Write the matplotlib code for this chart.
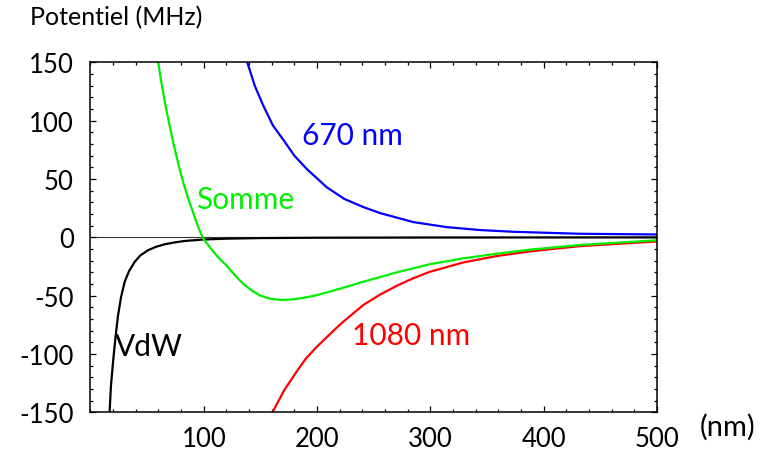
import numpy as np
from matplotlib import pyplot as plt
from matplotlib.ticker import MultipleLocator, FixedLocator

plt.rcParams['font.family'] = ['Lato', 'DejaVu Sans']
plt.rcParams['axes.unicode_minus'] = False

# distance (nm) / potentiel (MHz)
x_vdw = [16.9, 18, 19.9, 22, 24.3, 27, 30.2, 34, 39, 44, 50.8, 58, 65.5, 75, 83,
         100, 120, 150, 200, 300, 500]
y_vdw = [-149, -128, -107, -86, -67, -51, -38, -29, -21, -15.5, -11, -8, -5.9, -4.2, -3.1,
         -1.8, -1.1, -0.6, -0.3, -0.1, 0]

x_670 = [138.4, 145, 152.5, 161, 171.7, 180, 190.8, 208.5, 224, 240.8, 255.7, 285, 314.4,
         343.8, 373.2, 432, 500]
y_670 = [150, 130, 113, 96, 81.6, 70, 58.7, 43, 33, 26, 20.8, 13.1, 8.8,
         6.3, 4.8, 3.1, 2.5]

x_1080 = [161.3, 171, 182, 190, 199.6, 211.3, 220, 229, 240.8, 255.7, 270.3, 285, 299.6,
          329, 358.5, 388, 432, 500]
y_1080 = [-148.8, -131, -115, -104, -94, -83, -75, -67.5, -58, -49, -41.5, -35, -29.5,
          -21.5, -16, -12, -7.5, -3.5]

x_somme = [59.8, 62, 65.8, 70, 73.1, 78, 81.9, 86, 90.7, 95, 99.5, 105, 110, 115, 120,
           127, 135, 143, 150, 158, 168.7, 180, 190, 200, 211.3, 229, 240.8, 255.7, 270.3,
           299.6, 329, 358.5, 388, 432, 500]
y_somme = [150, 136, 115, 95, 81, 61, 47, 34, 21, 9, -1, -8, -14, -19.5, -24,
           -32, -40, -46, -50, -52.5, -53.7, -53, -51.5, -49.5, -46.5, -41.5, -38, -34, -30,
           -23, -18, -14, -10.5, -6.5, -2.5]

fig = plt.figure(figsize=(7.65, 4.52), dpi=100)
ax = fig.add_axes([0.1183, 0.0856, 0.7405, 0.774])

ax.axhline(0, color='#333333', lw=0.8, zorder=1)
ax.plot(x_vdw, y_vdw, color='black', lw=1.6)
ax.plot(x_670, y_670, color='#0000ff', lw=1.6)
ax.plot(x_1080, y_1080, color='#ff0000', lw=1.6)
ax.plot(x_somme, y_somme, color='#00f000', lw=1.6)

ax.set_xlim(0, 500)
ax.set_ylim(-150, 150)
ax.xaxis.set_major_locator(FixedLocator([100, 200, 300, 400, 500]))
ax.xaxis.set_minor_locator(MultipleLocator(20))
ax.yaxis.set_major_locator(MultipleLocator(50))
ax.yaxis.set_minor_locator(MultipleLocator(10))
ax.tick_params(which='both', direction='in', top=True, right=True,
               labelsize=18.5, width=0.9)
ax.tick_params(which='major', length=4, pad=10)
ax.tick_params(which='minor', length=2.5)
ax.tick_params(axis='y', pad=12)
for s in ax.spines.values():
    s.set_linewidth(1.1)

ax.text(187, 88, '670 nm', color='#0000ff', fontsize=21.5, va='center')
ax.text(93, 33, 'Somme', color='#00f000', fontsize=21.5, va='center')
ax.text(21.6, -93, 'VdW', color='black', fontsize=21.5, va='center')
ax.text(230.6, -84, '1080 nm', color='#ff0000', fontsize=21.5, va='center')

fig.text(30 / 765, 1 - 18 / 452, 'Potentiel (MHz)', fontsize=18, va='center', ha='left')
fig.text(700 / 765, 1 - 427 / 452, '(nm)', fontsize=21, va='center', ha='left')

plt.savefig('out.png')
